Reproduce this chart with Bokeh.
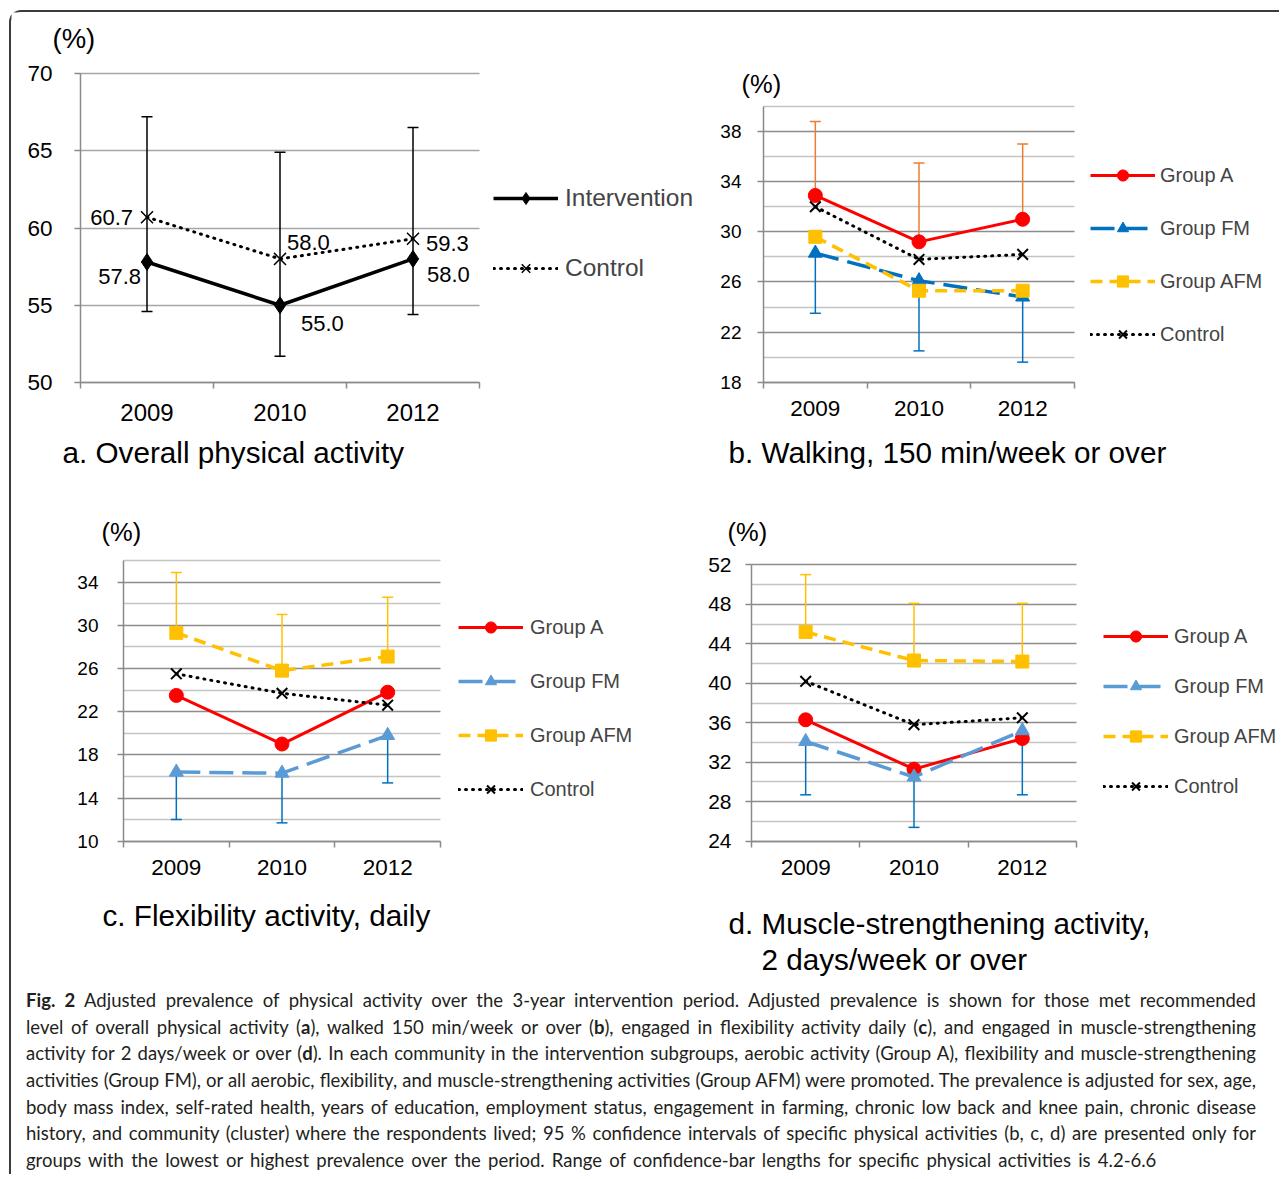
from bokeh.plotting import figure
from bokeh.models import (Range1d, FixedTicker, Label, Legend, LegendItem, Whisker, TeeHead,
                          ColumnDataSource, Div, LinearAxis, Grid)
from bokeh.layouts import column
from bokeh.embed import file_html
from bokeh.resources import INLINE

# ---------------- data ----------------
years = ["2009", "2010", "2012"]

# a. Overall physical activity
a_intervention = [57.8, 55.0, 58.0]
a_control = [60.7, 58.0, 59.3]
a_ci_low = [54.6, 51.7, 54.4]     # lower CI limit (Intervention)
a_ci_high = [67.2, 64.9, 66.5]    # upper CI limit (Control)

# b. Walking, 150 min/week or over
b_group_a = [32.9, 29.2, 31.0]
b_group_fm = [28.3, 26.1, 24.8]
b_group_afm = [29.6, 25.3, 25.3]
b_control = [32.0, 27.8, 28.2]
b_a_upper = [38.8, 35.5, 37.0]
b_fm_lower = [23.5, 20.5, 19.6]

# c. Flexibility activity, daily
c_group_a = [23.5, 19.0, 23.8]
c_group_fm = [16.4, 16.3, 19.8]
c_group_afm = [29.3, 25.8, 27.1]
c_control = [25.5, 23.7, 22.6]
c_afm_upper = [34.9, 31.0, 32.6]
c_fm_lower = [12.0, 11.7, 15.4]

# d. Muscle-strengthening activity, 2 days/week or over
d_group_a = [36.3, 31.3, 34.4]
d_group_fm = [34.1, 30.5, 35.2]
d_group_afm = [45.2, 42.3, 42.2]
d_control = [40.2, 35.8, 36.5]
d_afm_upper = [51.0, 48.1, 48.1]
d_fm_lower = [28.7, 25.4, 28.7]

a_range = (50, 70)
a_ticks = [50, 55, 60, 65, 70]
b_range = (18, 40)
b_ticks = [18, 22, 26, 30, 34, 38]
b_minor = [20, 24, 28, 32, 36, 40]
c_range = (10, 36)
c_ticks = [10, 14, 18, 22, 26, 30, 34]
c_minor = [12, 16, 20, 24, 28, 32, 36]
d_range = (24, 52)
d_ticks = [24, 28, 32, 36, 40, 44, 48, 52]
d_minor = [26, 30, 34, 38, 42, 46, 50]

series_names = ["Group A", "Group FM", "Group AFM", "Control"]

caption_lines = [
    "<b>Fig. 2</b> Adjusted prevalence of physical activity over the 3-year intervention period. Adjusted prevalence is shown for those met recommended",
    "level of overall physical activity (<b>a</b>), walked 150 min/week or over (<b>b</b>), engaged in flexibility activity daily (<b>c</b>), and engaged in muscle-strengthening",
    "activity for 2 days/week or over (<b>d</b>). In each community in the intervention subgroups, aerobic activity (Group A), flexibility and muscle-strengthening",
    "activities (Group FM), or all aerobic, flexibility, and muscle-strengthening activities (Group AFM) were promoted. The prevalence is adjusted for sex, age,",
    "body mass index, self-rated health, years of education, employment status, engagement in farming, chronic low back and knee pain, chronic disease",
    "history, and community (cluster) where the respondents lived; 95 % confidence intervals of specific physical activities (b, c, d) are presented only for",
    "groups with the lowest or highest prevalence over the period. Range of confidence-bar lengths for specific physical activities is 4.2-6.6",
]

# ---------------- styling ----------------
FONT = "Liberation Sans"
AXIS = "#8a8a8a"
RED = "#FF0000"
BLUE_B = "#0070C0"
BLUE_CD = "#5B9BD5"
ERR_BLUE = "#0070C0"
ORANGE = "#ED7D31"
GOLD = "#FFC000"
TITLE_PX = "29.7px"

xs = list(range(len(years)))
NX = len(years)

# canvas: one figure whose frame is the whole canvas (page origin of canvas = OX, OY)
OX, OY = 11, 12
W, HC = 1268, 970
p = figure(width=W, height=HC, x_range=Range1d(0, W), y_range=Range1d(HC, 0),
           x_axis_type=None, y_axis_type=None, title=None,
           output_backend="svg", toolbar_location=None,
           min_border_left=0, min_border_right=0, min_border_top=0, min_border_bottom=0)
p.outline_line_color = None
p.border_fill_color = "white"
p.background_fill_color = "white"


def add_panel(name, frame, yr, major, minor, ytick_px, xtick_px, ystand, xstand,
              grid_major, grid_minor):
    """frame = (left, right, bottom, top) page pixels of the plotted data box."""
    left, right, bottom, top = frame
    cl, cr, cb, ct = left - OX, right - OX, bottom - OY, top - OY
    ux = NX / (cr - cl)
    x0 = -0.5 - cl * ux
    p.extra_x_ranges[name] = Range1d(x0, x0 + W * ux)
    uy = (yr[1] - yr[0]) / (cb - ct)
    p.extra_y_ranges[name] = Range1d(yr[0] - (HC - cb) * uy, yr[1] + ct * uy)

    yt = FixedTicker(ticks=major, minor_ticks=minor)
    g = Grid(dimension=1, ticker=yt, x_range_name=name, y_range_name=name,
             grid_line_color=grid_major, grid_line_width=1.5,
             minor_grid_line_color=grid_minor, minor_grid_line_width=1.5)
    if "cross_bounds" in Grid.properties():
        g.cross_bounds = (-0.5, NX - 0.5)
        p.add_layout(g)
    else:
        for tks, col in ((major, grid_major), (minor, grid_minor)):
            if col is None or not tks:
                continue
            p.segment(x0=[-0.5] * len(tks), x1=[NX - 0.5] * len(tks), y0=tks, y1=tks,
                      line_color=col, line_width=1.5, x_range_name=name, y_range_name=name,
                      level="underlay")

    ya = LinearAxis(x_range_name=name, y_range_name=name, fixed_location=-0.5,
                    bounds=yr, ticker=yt,
                    axis_line_color=AXIS, axis_line_width=1.5,
                    major_tick_line_color=AXIS, major_tick_line_width=1.5,
                    major_tick_out=6, major_tick_in=0, minor_tick_line_color=None,
                    major_label_text_font=FONT, major_label_text_font_size=ytick_px,
                    major_label_text_color="black", major_label_standoff=ystand)
    p.add_layout(ya, "left")

    xt = FixedTicker(ticks=xs, minor_ticks=[i - 0.5 for i in range(NX + 1)])
    xa = LinearAxis(x_range_name=name, y_range_name=name, fixed_location=yr[0],
                    bounds=(-0.5, NX - 0.5), ticker=xt,
                    major_label_overrides={i: y for i, y in enumerate(years)},
                    axis_line_color=AXIS, axis_line_width=1.5,
                    major_tick_line_color=None, major_tick_out=0, major_tick_in=0,
                    minor_tick_line_color=AXIS, minor_tick_line_width=1.5,
                    minor_tick_out=6, minor_tick_in=0,
                    major_label_text_font=FONT, major_label_text_font_size=xtick_px,
                    major_label_text_color="black", major_label_standoff=xstand)
    p.add_layout(xa, "below")


def add_text(px, py, text, size):
    """Text placed at page pixel (px = left edge, py = vertical centre)."""
    p.add_layout(Label(x=px - OX, y=py - OY, text=text, text_font=FONT, text_font_size=size,
                       text_align="left", text_baseline="middle", text_color="black"))


def add_series(name, vals, color, dash, width, marker, msize, cap="butt", mline=1.0):
    src = ColumnDataSource(dict(x=xs, y=vals))
    ln = p.line("x", "y", source=src, line_color=color, line_width=width,
                line_dash=dash, line_cap=cap, x_range_name=name, y_range_name=name)
    sc = p.scatter("x", "y", source=src, marker=marker, size=msize,
                   fill_color=color, line_color=color, line_width=mline,
                   x_range_name=name, y_range_name=name)
    return [ln, sc]


def add_whisker(name, lower, upper, color, upper_head=True, lower_head=False):
    src = ColumnDataSource(dict(x=xs, lower=lower, upper=upper))
    w = Whisker(source=src, base="x", lower="lower", upper="upper", dimension="height",
                line_color=color, line_width=1.5, x_range_name=name, y_range_name=name,
                upper_head=TeeHead(size=11, line_color=color, line_width=1.5) if upper_head else None,
                lower_head=TeeHead(size=11, line_color=color, line_width=1.5) if lower_head else None)
    p.add_layout(w)


def add_legend(items, left_px, bottom_px, glyph_h, spacing, size, standoff):
    lg = Legend(items=[LegendItem(label=n, renderers=r) for n, r in items],
                location=(left_px - OX, OY + HC - bottom_px),
                glyph_width=65, glyph_height=glyph_h,
                label_standoff=standoff, spacing=spacing, padding=0, margin=0,
                border_line_color=None, background_fill_alpha=0,
                label_text_font=FONT, label_text_font_size=size, label_height=20)
    p.add_layout(lg)


# ---------------- panel a ----------------
add_panel("a", (80, 479, 382, 73), a_range, a_ticks, [], "22.5px", "24px", 22, 15,
          "#a6a6a6", None)
add_whisker("a", a_ci_low, a_ci_high, "black", upper_head=True, lower_head=True)
r_int = add_series("a", a_intervention, "black", "solid", 3.5, "diamond", 17)
r_ctl = add_series("a", a_control, "black", "1 6", 3, "x", 17, cap="round", mline=1.5)
add_legend([("Intervention", r_int), ("Control", r_ctl)], 493, 283, 30, 40, "24.5px", 7)

lab_style = dict(text_font=FONT, text_font_size="22px", text_baseline="middle",
                 text_color="black", x_range_name="a", y_range_name="a")
ctl_off = [(-14, 0, "right"), (7, 16, "left"), (13, -5, "left")]
int_off = [(-6, -15, "right"), (21, -18, "left"), (14, -16, "left")]
for i, v in enumerate(a_control):
    xo, yo, al = ctl_off[i]
    p.add_layout(Label(x=xs[i], y=v, text=f"{v:.1f}", x_offset=xo, y_offset=yo,
                       text_align=al, **lab_style))
for i, v in enumerate(a_intervention):
    xo, yo, al = int_off[i]
    p.add_layout(Label(x=xs[i], y=v, text=f"{v:.1f}", x_offset=xo, y_offset=yo,
                       text_align=al, **lab_style))
add_text(52, 38, "(%)", "27.5px")
add_text(62, 452, "a. Overall physical activity", TITLE_PX)

# ---------------- panel b ----------------
add_panel("b", (763, 1074, 381.7, 106), b_range, b_ticks, b_minor, "19px", "22.5px", 16, 13,
          "#8c8c8c", "#c4c4c4")
add_whisker("b", b_group_a, b_a_upper, ORANGE)
add_whisker("b", b_fm_lower, b_group_fm, ERR_BLUE, upper_head=False, lower_head=True)
rb_a = add_series("b", b_group_a, RED, "solid", 3, "circle", 14)
rb_fm = add_series("b", b_group_fm, BLUE_B, "24 9", 3.5, "triangle", 14)
rb_afm = add_series("b", b_group_afm, GOLD, "12 7", 3.5, "square", 13)
rb_c = add_series("b", b_control, "black", "1 6", 3, "x", 15, cap="round", mline=2)
add_legend(list(zip(series_names, [rb_a, rb_fm, rb_afm, rb_c])), 1090, 348, 28, 25, "20px", 5)
add_text(741, 83, "(%)", "25.5px")
add_text(728, 452, "b. Walking, 150 min/week or over", TITLE_PX)

# ---------------- panel c ----------------
add_panel("c", (123, 440, 840.7, 560), c_range, c_ticks, c_minor, "19px", "22.5px", 19, 13,
          "#8c8c8c", "#c4c4c4")
add_whisker("c", c_group_afm, c_afm_upper, GOLD)
add_whisker("c", c_fm_lower, c_group_fm, ERR_BLUE, upper_head=False, lower_head=True)
rc_a = add_series("c", c_group_a, RED, "solid", 3, "circle", 14)
rc_fm = add_series("c", c_group_fm, BLUE_CD, "24 9", 3.5, "triangle", 14)
rc_afm = add_series("c", c_group_afm, GOLD, "12 7", 3.5, "square", 13)
rc_c = add_series("c", c_control, "black", "1 6", 3, "x", 15, cap="round", mline=2)
add_legend(list(zip(series_names, [rc_a, rc_fm, rc_afm, rc_c])), 458, 803, 28, 26, "20px", 7)
add_text(101, 531, "(%)", "25.5px")
add_text(102, 915, "c. Flexibility activity, daily", TITLE_PX)

# ---------------- panel d ----------------
add_panel("d", (751, 1076, 840.7, 564.3), d_range, d_ticks, d_minor, "21px", "22.5px", 14, 13,
          "#8c8c8c", "#c4c4c4")
add_whisker("d", d_group_afm, d_afm_upper, GOLD)
add_whisker("d", d_fm_lower, d_group_fm, ERR_BLUE, upper_head=False, lower_head=True)
rd_a = add_series("d", d_group_a, RED, "solid", 3, "circle", 14)
rd_fm = add_series("d", d_group_fm, BLUE_CD, "24 9", 3.5, "triangle", 14)
rd_afm = add_series("d", d_group_afm, GOLD, "12 7", 3.5, "square", 13)
rd_c = add_series("d", d_control, "black", "1 6", 3, "x", 15, cap="round", mline=2)
add_legend(list(zip(series_names, [rd_a, rd_fm, rd_afm, rd_c])), 1103, 800, 28, 22, "20px", 6)
add_text(727, 531, "(%)", "25.5px")
add_text(728, 923, "d. Muscle-strengthening activity,", TITLE_PX)
add_text(761, 959, "2 days/week or over", TITLE_PX)

# ---------------- caption ----------------
just = ('<div style="width: 1230px; text-align: justify; text-align-last: justify; '
        'white-space: nowrap;">{}</div>')
last = '<div style="white-space: nowrap; word-spacing: 2.5px;">{}</div>'
rows_html = [just.format(t) for t in caption_lines[:-1]] + [last.format(caption_lines[-1])]
cap_html = ('<div style="font-family: Lato, \'Open Sans\', sans-serif; font-size: 18.5px; '
            'line-height: 26.67px; color: #231f20;">' + "".join(rows_html) + "</div>")
caption = Div(text=cap_html, width=1250, height=187, margin=(5, 0, 0, 15))

layout = column(p, caption, margin=(10, 0, 0, 9),
                styles={"border-top": "2px solid #3c3c3c", "border-left": "2px solid #3c3c3c",
                        "border-top-left-radius": "12px"})

open("out.html", "w").write(file_html(layout, INLINE))
